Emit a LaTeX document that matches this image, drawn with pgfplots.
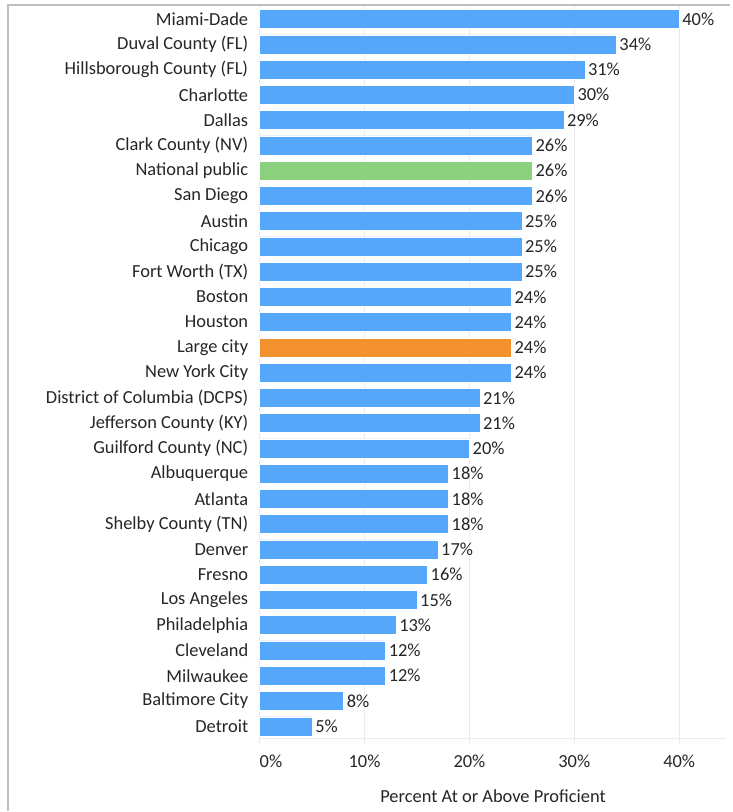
\documentclass[border=0pt]{standalone}
\usepackage{pgfplots}
\pgfplotsset{compat=1.18}
\usepackage{pgfplotstable}
\usepackage{fontspec}
\setmainfont{Carlito}

\definecolor{barblue}{HTML}{55A7FC}
\definecolor{bargreen}{HTML}{8CD17D}
\definecolor{barorange}{HTML}{F2912E}
\definecolor{gridgray}{HTML}{EBEBEB}
\definecolor{framegray}{HTML}{BFBFBF}
\definecolor{txt}{HTML}{262626}

% y position (0 = bottom row), percent at or above proficient
\pgfplotstableread{
y  val
28 40
27 34
26 31
25 30
24 29
23 26
21 26
20 25
19 25
18 25
17 24
16 24
14 24
13 21
12 21
11 20
10 18
9  18
8  18
7  17
6  16
5  15
4  13
3  12
2  12
1  8
0  5
}\districts
\pgfplotstableread{
y  val
22 26
}\national
\pgfplotstableread{
y  val
15 24
}\largecity

\begin{document}
\begin{tikzpicture}
\begin{axis}[
  at={(0,0)}, anchor=south west,
  scale only axis,
  width=467.25bp, height=733.4bp,
  xbar, bar shift=0pt, bar width=19bp,
  xmin=0, xmax=44.5,
  ymin=-0.5, ymax=28.5,
  axis line style={draw=none},
  axis x line*=bottom,
  xtick={0,10,20,30,40},
  xticklabels={\rlap{0\%},10\%,20\%,30\%,40\%},
  xmajorgrids, grid style={gridgray, line width=0.8bp},
  xtick pos=bottom, tick align=outside,
  major tick length=6bp,
  every tick/.style={gridgray, line width=0.8bp},
  ytick={0,...,28},
  yticklabels={Detroit, Baltimore City, Milwaukee, Cleveland, Philadelphia,
    Los Angeles, Fresno, Denver, Shelby County (TN), Atlanta, Albuquerque,
    Guilford County (NC), Jefferson County (KY), District of Columbia (DCPS),
    New York City, Large city, Houston, Boston, Fort Worth (TX), Chicago,
    Austin, San Diego, National public, Clark County (NV), Dallas, Charlotte,
    Hillsborough County (FL), Duval County (FL), Miami-Dade},
  ytick style={draw=none},
  yticklabel style={font=\fontsize{18.5}{20}\selectfont, text=txt, xshift=-2bp},
  xticklabel style={font=\fontsize{18.5}{20}\selectfont, text=txt, yshift=-7bp},
  xlabel={Percent At or Above Proficient},
  xlabel style={font=\fontsize{18.5}{20}\selectfont, text=txt, yshift=-15bp},
  /pgf/number format/assume math mode=true,
  nodes near coords={\pgfmathprintnumber[fixed,precision=0]{\pgfplotspointmeta}\%},
  point meta=x,
  every node near coord/.append style={font=\fontsize{18.5}{20}\selectfont,
    text=txt, anchor=west, inner sep=3bp},
  clip=false,
]
\addplot[fill=barblue, draw=white, line width=0.5bp] table[x=val, y=y] {\districts};
\addplot[fill=bargreen, draw=white, line width=0.5bp] table[x=val, y=y] {\national};
\addplot[fill=barorange, draw=white, line width=0.5bp] table[x=val, y=y] {\largecity};
\draw[gridgray, line width=0.8bp] (axis cs:0,-0.5) -- (axis cs:44.5,-0.5);
\end{axis}
% chart-area frame
\draw[framegray, line width=2bp] (-252bp,-72.2bp) -- (-252bp,735bp) -- (471bp,735bp);
\useasboundingbox (-260bp,-72.2bp) rectangle (471bp,739.8bp);
\end{tikzpicture}
\end{document}
